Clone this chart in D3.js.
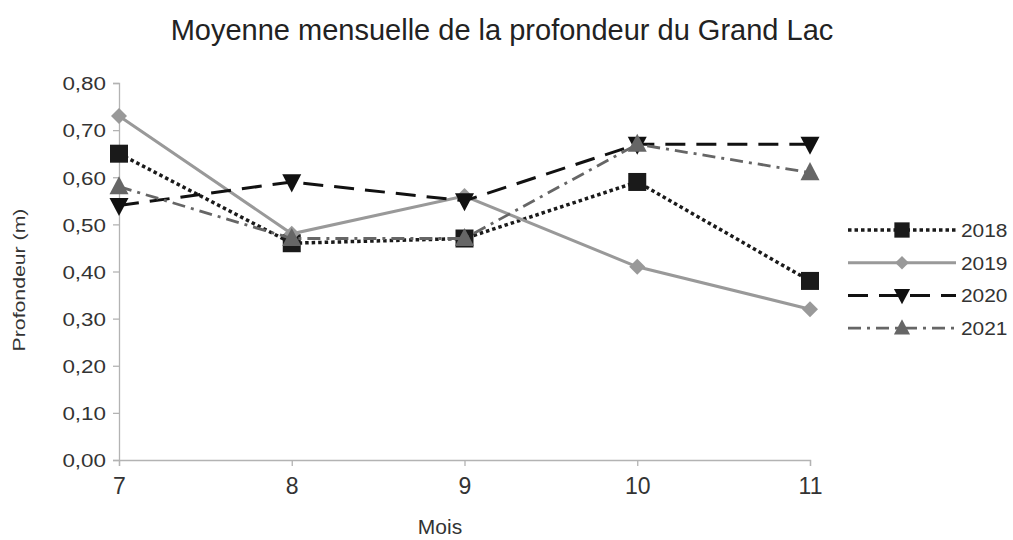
<!DOCTYPE html>
<html>
<head>
<meta charset="utf-8">
<script src="https://cdn.jsdelivr.net/npm/d3@7/dist/d3.min.js"></script>
<style>
  html, body { margin: 0; padding: 0; background: #fff; }
  svg { display: block; font-family: "Liberation Sans", Arial, sans-serif; }
</style>
</head>
<body>
<svg id="chart" width="1013" height="540"></svg>
<script>
// Months on the x axis
const months = [7, 8, 9, 10, 11];
// Mean depth per month (m), one array per year
const years = ["2018", "2019", "2020", "2021"];
const depth2018 = [0.65, 0.46, 0.47, 0.59, 0.38];
const depth2019 = [0.73, 0.48, 0.56, 0.41, 0.32];
const depth2020 = [0.54, 0.59, 0.55, 0.67, 0.67];
const depth2021 = [0.58, 0.47, 0.47, 0.67, 0.61];
const yTicks = [0, 0.1, 0.2, 0.3, 0.4, 0.5, 0.6, 0.7, 0.8];

const seriesValues = [depth2018, depth2019, depth2020, depth2021];
const styles = [
  { color: "#1a1a1a", dash: "3.5,3", width: 3.5, marker: "square" },
  { color: "#999999", dash: null, width: 3, marker: "diamond" },
  { color: "#111111", dash: "20,11", width: 3, marker: "down" },
  { color: "#666666", dash: "13,6,3,6", width: 2.8, marker: "up" }
];

const svg = d3.select("#chart");
const x = d3.scaleLinear().domain([7, 11]).range([119, 810]);
const y = d3.scaleLinear().domain([0, 0.8]).range([460, 83]);

const fmt = d => d3.format(".2f")(d).replace(".", ",");
const textColor = "#333";

// Title
svg.append("text")
  .attr("x", 502).attr("y", 40)
  .attr("text-anchor", "middle")
  .attr("font-size", 29)
  .attr("fill", "#222")
  .text("Moyenne mensuelle de la profondeur du Grand Lac");

// Y axis
const yAxis = svg.append("g")
  .attr("transform", `translate(${x(7)},0)`)
  .call(d3.axisLeft(y).tickValues(yTicks).tickFormat(fmt).tickSize(6).tickPadding(6));
// X axis
const xAxis = svg.append("g")
  .attr("transform", `translate(0,${y(0)})`)
  .call(d3.axisBottom(x).tickValues(months).tickFormat(d3.format("d")).tickSize(6).tickPadding(10));

[yAxis, xAxis].forEach(g => {
  g.attr("font-family", "'Liberation Sans', Arial, sans-serif");
  g.select(".domain").attr("stroke", "#b3b3b3").attr("stroke-width", 1.3);
  g.selectAll(".tick line").attr("stroke", "#b3b3b3").attr("stroke-width", 1.3);
  g.selectAll(".tick text").attr("fill", textColor);
});
// y labels are drawn slightly widened
const yStretch = 1.18;
yAxis.selectAll(".tick text")
  .attr("font-size", 19)
  .attr("x", -13 / yStretch)
  .attr("dy", "0.36em")
  .attr("transform", `scale(${yStretch},1)`);
xAxis.selectAll(".tick text")
  .attr("font-size", 23)
  .attr("dy", "0.78em");

// Axis titles
svg.append("text")
  .attr("transform", "translate(25,280) rotate(-90) scale(1.25,1)")
  .attr("text-anchor", "middle")
  .attr("font-size", 17)
  .attr("fill", textColor)
  .text("Profondeur (m)");
svg.append("text")
  .attr("x", 440).attr("y", 534)
  .attr("text-anchor", "middle")
  .attr("font-size", 21)
  .attr("fill", textColor)
  .text("Mois");

// Marker shapes
function markerPath(type, s) {
  switch (type) {
    case "square": return `M${-s},${-s}H${s}V${s}H${-s}Z`;
    case "diamond": return `M0,${-s}L${s},0L0,${s}L${-s},0Z`;
    case "down": return `M${-s},${-s * 0.8}H${s}L0,${s * 1.1}Z`;
    case "up": return `M0,${-s * 1.1}L${s},${s * 0.8}H${-s}Z`;
  }
}
const markerSize = { square: 9, diamond: 8, down: 9.5, up: 9.5 };

const line = d3.line().x((d, i) => x(months[i])).y(d => y(d));

seriesValues.forEach((vals, k) => {
  const st = styles[k];
  const g = svg.append("g");
  g.append("path")
    .datum(vals)
    .attr("d", line)
    .attr("fill", "none")
    .attr("stroke", st.color)
    .attr("stroke-width", st.width)
    .attr("stroke-dasharray", st.dash);
  g.selectAll("path.mk")
    .data(vals)
    .enter().append("path")
    .attr("class", "mk")
    .attr("transform", (d, i) => `translate(${x(months[i])},${y(d)})`)
    .attr("d", markerPath(st.marker, markerSize[st.marker]))
    .attr("fill", st.color);
});

// Legend
const legend = svg.append("g");
years.forEach((yr, k) => {
  const st = styles[k];
  const cy = 230 + k * 32.7;
  legend.append("line")
    .attr("x1", 848).attr("x2", 956).attr("y1", cy).attr("y2", cy)
    .attr("stroke", st.color)
    .attr("stroke-width", st.width)
    .attr("stroke-dasharray", st.dash);
  legend.append("path")
    .attr("transform", `translate(902,${cy})`)
    .attr("d", markerPath(st.marker, markerSize[st.marker] * 0.85))
    .attr("fill", st.color);
  legend.append("text")
    .attr("x", 961).attr("y", cy).attr("dy", "0.36em")
    .attr("font-size", 19)
    .attr("fill", textColor)
    .attr("transform", `translate(${961 * -0.1},0) scale(1.1,1)`)
    .text(yr);
});
</script>
</body>
</html>
